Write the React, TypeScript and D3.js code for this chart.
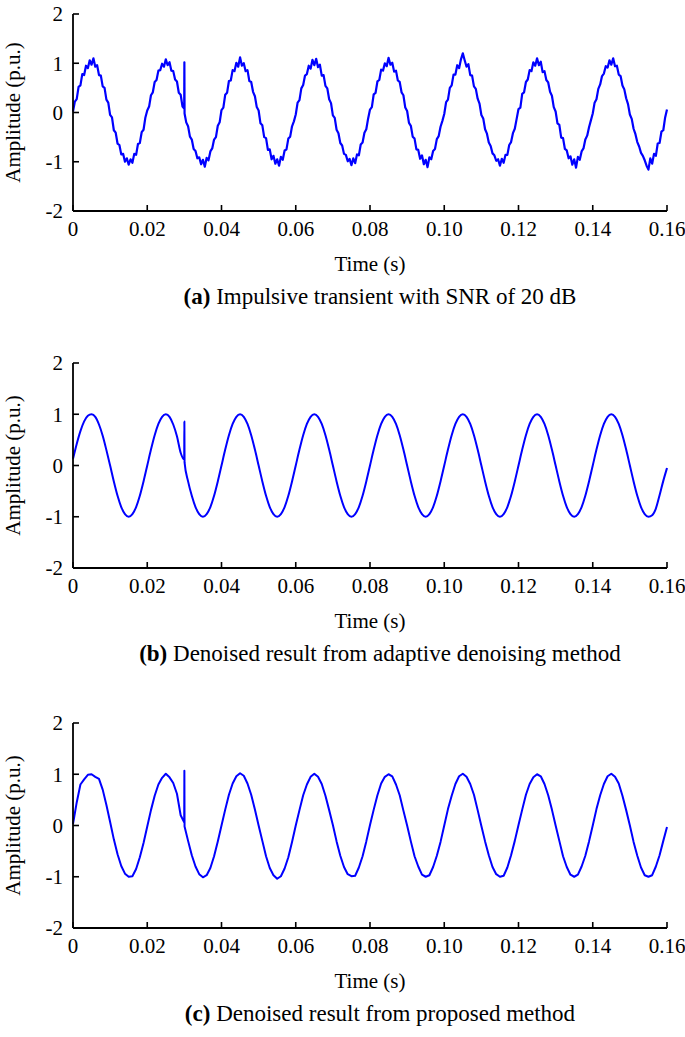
import React from "react";
import * as d3 from "d3";

// ---------- data ----------
// x tick values (s) and labels
const xTicks = [0, 0.02, 0.04, 0.06, 0.08, 0.1, 0.12, 0.14, 0.16];
const xTickLabels = ["0", "0.02", "0.04", "0.06", "0.08", "0.10", "0.12", "0.14", "0.16"];
const yTicks = [2, 1, 0, -1, -2];
const yTickLabels = ["2", "1", "0", "-1", "-2"];

// (a) noisy signal, sampled every 0.5 ms from 0 to 160 ms
const noisyValues = [
  0.02, 0.22, 0.27, 0.52, 0.55, 0.78, 0.76, 0.95, 0.9, 1.06, 0.97, 1.1, 0.93, 0.96, 0.76, 0.75, 0.53, 0.5, 0.26, 0.2,
  -0.05, -0.1, -0.36, -0.41, -0.63, -0.66, -0.85, -0.84, -1.0, -0.93, -1.06, -0.95, -1.02, -0.84, -0.86, -0.64, -0.62, -0.4, -0.35, -0.1,
  0.04, 0.12, 0.35, 0.41, 0.62, 0.66, 0.85, 0.86, 0.99, 0.93, 1.08, 0.96, 1.02, 0.85, 0.84, 0.67, 0.63, 0.4, 0.36, 0.12,
  0.05, -0.2, -0.28, -0.49, -0.55, -0.74, -0.78, -0.93, -0.91, -1.05, -0.96, -1.1, -0.92, -0.97, -0.79, -0.73, -0.55, -0.5, -0.27, -0.2,
  0.05, 0.1, 0.36, 0.4, 0.64, 0.65, 0.86, 0.84, 1.01, 0.93, 1.12, 0.95, 1.0, 0.84, 0.86, 0.64, 0.62, 0.42, 0.33, 0.11,
  0.04, -0.22, -0.26, -0.5, -0.52, -0.76, -0.75, -0.95, -0.88, -1.04, -0.95, -1.08, -0.9, -0.96, -0.77, -0.75, -0.53, -0.49, -0.28, -0.18,
  -0.04, 0.2, 0.25, 0.49, 0.56, 0.75, 0.78, 0.95, 0.89, 1.07, 0.96, 1.09, 0.92, 0.97, 0.75, 0.76, 0.54, 0.49, 0.27, 0.19,
  -0.06, -0.11, -0.35, -0.42, -0.62, -0.67, -0.84, -0.86, -0.99, -0.94, -1.07, -0.93, -1.03, -0.85, -0.87, -0.65, -0.61, -0.41, -0.34, -0.12,
  0.06, 0.11, 0.37, 0.4, 0.63, 0.66, 0.87, 0.85, 1.0, 0.94, 1.11, 0.97, 1.01, 0.83, 0.85, 0.65, 0.62, 0.41, 0.35, 0.1,
  0.03, -0.21, -0.27, -0.49, -0.53, -0.75, -0.76, -0.94, -0.87, -1.05, -0.96, -1.11, -0.91, -0.95, -0.78, -0.74, -0.54, -0.48, -0.29, -0.17,
  -0.03, 0.21, 0.26, 0.5, 0.55, 0.77, 0.77, 0.96, 0.9, 1.08, 1.2, 1.06, 0.93, 0.98, 0.76, 0.75, 0.53, 0.48, 0.28, 0.18,
  -0.05, -0.12, -0.34, -0.43, -0.61, -0.68, -0.83, -0.87, -0.98, -0.95, -1.08, -0.94, -1.02, -0.86, -0.86, -0.66, -0.6, -0.42, -0.33, -0.13,
  0.07, 0.1, 0.38, 0.41, 0.62, 0.67, 0.86, 0.84, 1.02, 0.95, 1.1, 0.96, 1.03, 0.82, 0.84, 0.66, 0.61, 0.42, 0.34, 0.11,
  0.02, -0.22, -0.25, -0.51, -0.52, -0.74, -0.77, -0.93, -0.89, -1.06, -0.95, -1.12, -0.9, -0.96, -0.79, -0.73, -0.55, -0.47, -0.3, -0.16,
  -0.02, 0.2, 0.27, 0.48, 0.57, 0.74, 0.79, 0.94, 0.91, 1.06, 0.97, 1.1, 0.94, 0.95, 0.77, 0.74, 0.55, 0.47, 0.29, 0.17,
  -0.04, -0.13, -0.33, -0.44, -0.6, -0.69, -0.82, -0.88, -0.97, -1.08, -1.16, -0.93, -1.04, -0.84, -0.88, -0.63, -0.62, -0.39, -0.36, -0.1,
  0.06,
];
// impulse in (a): [time ms, value]
const spikeA = [[29.95, 0.08], [30.0, 1.02], [30.05, -0.02]];

// (b) adaptive denoising, sampled every 1 ms
const adaptiveValues = [
  0.13, 0.42, 0.67, 0.86, 0.97, 1.0, 0.95, 0.8, 0.58, 0.3, 0.0, -0.31, -0.59, -0.81, -0.95, -1.0, -0.95, -0.81, -0.59, -0.31,
  0.0, 0.31, 0.59, 0.81, 0.95, 1.0, 0.95, 0.8, 0.57, 0.25, 0.1, -0.31, -0.59, -0.81, -0.95, -1.0, -0.95, -0.81, -0.59, -0.31,
  0.0, 0.31, 0.59, 0.81, 0.95, 1.0, 0.95, 0.81, 0.59, 0.31, 0.0, -0.31, -0.59, -0.81, -0.95, -1.0, -0.95, -0.81, -0.59, -0.31,
  0.0, 0.31, 0.59, 0.81, 0.95, 1.0, 0.95, 0.81, 0.59, 0.31, 0.0, -0.31, -0.59, -0.81, -0.95, -1.0, -0.95, -0.81, -0.59, -0.31,
  0.0, 0.31, 0.59, 0.81, 0.95, 1.0, 0.95, 0.81, 0.59, 0.31, 0.0, -0.31, -0.59, -0.81, -0.95, -1.0, -0.95, -0.81, -0.59, -0.31,
  0.0, 0.31, 0.59, 0.81, 0.95, 1.0, 0.95, 0.81, 0.59, 0.31, 0.0, -0.31, -0.59, -0.81, -0.95, -1.0, -0.95, -0.81, -0.59, -0.31,
  0.0, 0.31, 0.59, 0.81, 0.95, 1.0, 0.95, 0.81, 0.59, 0.31, 0.0, -0.31, -0.59, -0.81, -0.95, -1.0, -0.95, -0.81, -0.59, -0.31,
  0.0, 0.31, 0.59, 0.81, 0.95, 1.0, 0.95, 0.81, 0.59, 0.31, 0.0, -0.31, -0.59, -0.81, -0.95, -1.0, -0.97, -0.84, -0.58, -0.3,
  -0.05,
];
const spikeB = [[29.95, 0.12], [30.0, 0.86], [30.05, 0.06]];

// (c) proposed method, sampled every 1 ms
const proposedValues = [
  0.03, 0.45, 0.8, 0.9, 0.99, 1.0, 0.95, 0.91, 0.7, 0.4, 0.07, -0.27, -0.56, -0.79, -0.94, -1.0, -0.99, -0.85, -0.62, -0.34,
  -0.02, 0.3, 0.58, 0.8, 0.93, 1.01, 0.94, 0.83, 0.62, 0.2, 0.05, -0.3, -0.58, -0.8, -0.95, -1.01, -0.97, -0.83, -0.6, -0.31,
  0.0, 0.31, 0.6, 0.82, 0.96, 1.02, 0.97, 0.82, 0.6, 0.31, 0.0, -0.3, -0.6, -0.83, -0.97, -1.04, -0.99, -0.84, -0.62, -0.32,
  0.0, 0.3, 0.59, 0.8, 0.95, 1.01, 0.95, 0.81, 0.58, 0.3, 0.01, -0.31, -0.59, -0.81, -0.95, -0.99, -0.98, -0.82, -0.6, -0.31,
  0.01, 0.31, 0.59, 0.82, 0.95, 1.0, 0.96, 0.8, 0.59, 0.29, 0.0, -0.31, -0.6, -0.8, -0.96, -1.0, -0.97, -0.81, -0.59, -0.32,
  0.0, 0.32, 0.58, 0.81, 0.96, 1.01, 0.95, 0.81, 0.6, 0.3, -0.01, -0.31, -0.58, -0.81, -0.95, -1.0, -0.98, -0.82, -0.58, -0.3,
  0.01, 0.31, 0.6, 0.81, 0.94, 1.0, 0.96, 0.81, 0.59, 0.31, 0.0, -0.3, -0.6, -0.81, -0.96, -1.0, -0.96, -0.8, -0.59, -0.31,
  0.0, 0.32, 0.59, 0.81, 0.96, 1.01, 0.95, 0.82, 0.58, 0.3, 0.0, -0.32, -0.59, -0.82, -0.97, -1.0, -0.97, -0.8, -0.58, -0.3,
  -0.03,
];
const spikeC = [[29.95, 0.06], [30.0, 1.07], [30.05, -0.02]];

const captionTags = ["(a)", "(b)", "(c)"];
const captionTexts = [
  " Impulsive transient with SNR of 20 dB",
  " Denoised result from adaptive denoising method",
  " Denoised result from proposed method",
];

// ---------- helpers ----------
function buildSeries(values: number[], stepMs: number, spike: number[][]) {
  const lo = spike[0][0];
  const hi = spike[spike.length - 1][0];
  const pts: [number, number][] = values
    .map((v, i) => [(i * stepMs) / 1000, v] as [number, number])
    .filter(([t]) => t * 1000 < lo - 1e-6 || t * 1000 > hi + 1e-6);
  spike.forEach(([t, v]) => pts.push([t / 1000, v]));
  pts.sort((a, b) => a[0] - b[0]);
  return pts;
}

const FONT = "'Liberation Serif', 'Times New Roman', serif";
const W = 685;
const H = 1037;
const X0 = 73;
const X1 = 667;

const panels = [
  { top: 14, bottom: 211, series: buildSeries(noisyValues, 0.5, spikeA), curve: d3.curveLinear, sw: 2.2 },
  { top: 363, bottom: 568, series: buildSeries(adaptiveValues, 1, spikeB), curve: d3.curveMonotoneX, sw: 2 },
  { top: 723, bottom: 928, series: buildSeries(proposedValues, 1, spikeC), curve: d3.curveLinear, sw: 2 },
];

function Panel({ p, idx }: { p: any; idx: number }) {
  const x = d3.scaleLinear().domain([0, 0.16]).range([X0, X1]);
  const y = d3.scaleLinear().domain([-2, 2]).range([p.bottom, p.top]);
  const line = d3
    .line<[number, number]>()
    .x((d) => x(d[0]))
    .y((d) => y(d[1]))
    .curve(p.curve);
  const midY = (p.top + p.bottom) / 2;
  return (
    <g>
      <path d={line(p.series) || ""} fill="none" stroke="#0000ff" strokeWidth={p.sw} strokeLinejoin="round" />
      {/* axes */}
      <line x1={X0} x2={X0} y1={p.top} y2={p.bottom} stroke="#000" strokeWidth={1.8} />
      <line x1={X0} x2={X1} y1={p.bottom} y2={p.bottom} stroke="#000" strokeWidth={1.8} />
      {yTicks.map((t, i) => (
        <g key={"y" + i}>
          <line x1={X0} x2={X0 + 6} y1={y(t)} y2={y(t)} stroke="#000" strokeWidth={1.6} />
          <text x={X0 - 10} y={y(t)} dy="0.35em" textAnchor="end" fontFamily={FONT} fontSize={21} fill="#000">
            {yTickLabels[i]}
          </text>
        </g>
      ))}
      {xTicks.map((t, i) => (
        <g key={"x" + i}>
          <line x1={x(t)} x2={x(t)} y1={p.bottom} y2={p.bottom - 6} stroke="#000" strokeWidth={1.6} />
          <text x={x(t)} y={p.bottom + 25} textAnchor="middle" fontFamily={FONT} fontSize={21} fill="#000">
            {xTickLabels[i]}
          </text>
        </g>
      ))}
      <text
        transform={`translate(20,${midY}) rotate(-90)`}
        textAnchor="middle"
        fontFamily={FONT}
        fontSize={21}
        fill="#000"
      >
        Amplitude (p.u.)
      </text>
      <text x={(X0 + X1) / 2} y={p.bottom + 60} textAnchor="middle" fontFamily={FONT} fontSize={21} fill="#000">
        Time (s)
      </text>
      <text x={(X0 + X1) / 2 + 10} y={p.bottom + 93} textAnchor="middle" fontFamily={FONT} fontSize={23} fill="#000">
        <tspan fontFamily={FONT} fontWeight="bold">{captionTags[idx]}</tspan>
        <tspan fontFamily={FONT}>{captionTexts[idx]}</tspan>
      </text>
    </g>
  );
}

export default function App() {
  return (
    <svg
      width={W}
      height={H}
      viewBox={`0 0 ${W} ${H}`}
      style={{ position: "absolute", left: 0, top: 0, background: "#fff" }}
    >
      <rect width={W} height={H} fill="#fff" />
      {panels.map((p, i) => (
        <Panel key={i} p={p} idx={i} />
      ))}
    </svg>
  );
}
